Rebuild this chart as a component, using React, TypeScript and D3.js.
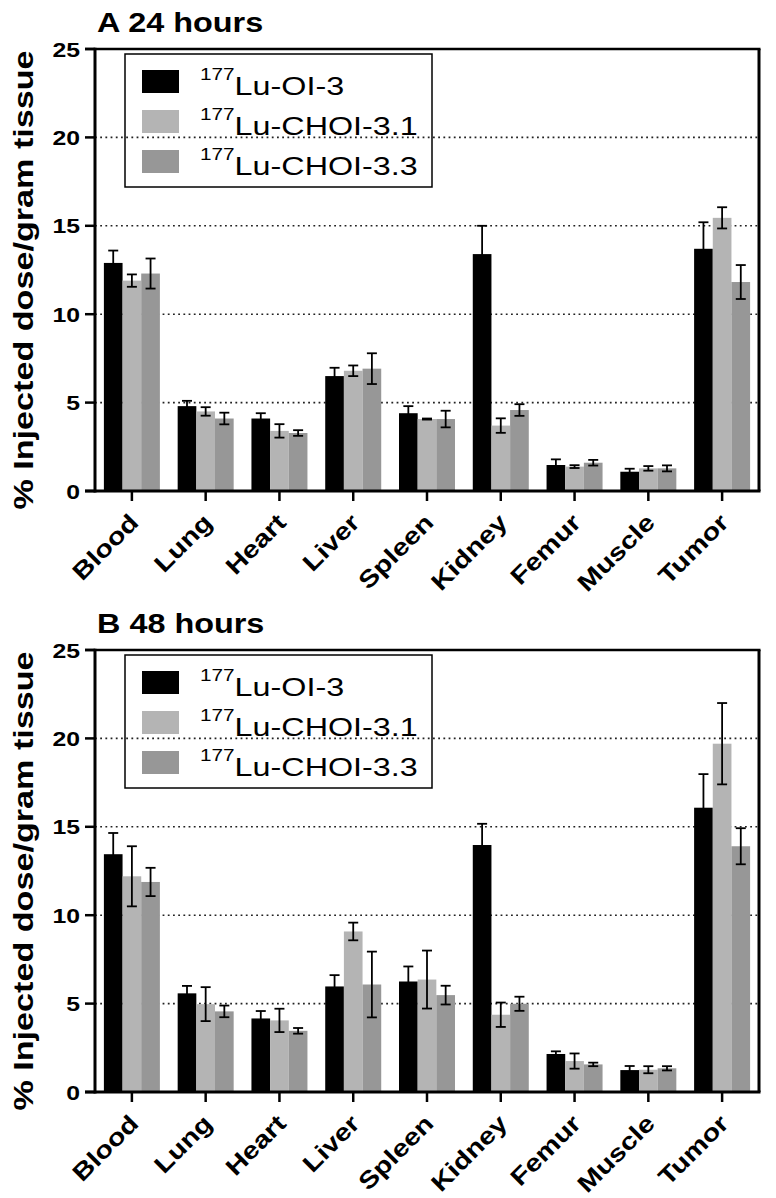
import React from "react";
import * as d3 from "d3";

const categories = ["Blood", "Lung", "Heart", "Liver", "Spleen", "Kidney", "Femur", "Muscle", "Tumor"];
const seriesLabels = ["Lu-OI-3", "Lu-CHOI-3.1", "Lu-CHOI-3.3"];
const isotope = "177";
const yTicks = [0, 5, 10, 15, 20, 25];
const gridValues = [5, 10, 15, 20];

// Panel A: 24 hours
const a24_OI3 = [12.9, 4.8, 4.1, 6.5, 4.4, 13.4, 1.47, 1.09, 13.7];
const a24_OI3_sd = [0.7, 0.3, 0.3, 0.47, 0.4, 1.6, 0.32, 0.17, 1.5];
const a24_CHOI31 = [11.9, 4.5, 3.4, 6.8, 4.07, 3.7, 1.38, 1.28, 15.45];
const a24_CHOI31_sd = [0.35, 0.24, 0.38, 0.3, 0.03, 0.41, 0.08, 0.13, 0.6];
const a24_CHOI33 = [12.3, 4.1, 3.28, 6.92, 4.07, 4.58, 1.6, 1.28, 11.82];
const a24_CHOI33_sd = [0.85, 0.33, 0.16, 0.87, 0.47, 0.33, 0.16, 0.17, 0.96];

// Panel B: 48 hours
const b48_OI3 = [13.45, 5.58, 4.16, 5.97, 6.25, 13.97, 2.15, 1.24, 16.08];
const b48_OI3_sd = [1.2, 0.42, 0.42, 0.64, 0.85, 1.2, 0.15, 0.23, 1.9];
const b48_CHOI31 = [12.2, 4.97, 4.05, 9.08, 6.36, 4.37, 1.75, 1.26, 19.7];
const b48_CHOI31_sd = [1.7, 0.96, 0.66, 0.5, 1.64, 0.69, 0.43, 0.2, 2.3];
const b48_CHOI33 = [11.88, 4.56, 3.46, 6.08, 5.48, 4.99, 1.56, 1.34, 13.9];
const b48_CHOI33_sd = [0.8, 0.33, 0.16, 1.86, 0.53, 0.4, 0.1, 0.12, 1.02];

const colors = ["#000000", "#b4b4b4", "#979797"];
const FONT = "'Liberation Sans', Arial, Helvetica, sans-serif";

type Series = { values: number[]; sd: number[] };

const W = 776;
const H = 1198;
const left = 95;
const right = 759;
const top = 49;
const bottom = 491;

function Panel({ dy, title, series }: { dy: number; title: string; series: Series[] }) {
  const x = d3.scaleBand<string>().domain(categories).range([left, right]).padding(0);
  const sub = d3.scaleBand<number>().domain([0, 1, 2]).range([-28, 28]).padding(0);
  const y = d3.scaleLinear().domain([0, 25]).range([bottom + dy, top + dy]);
  const cx = (c: string) => (x(c) as number) + x.bandwidth() / 2;
  const capW = 5;

  return (
    <g>
      {/* title */}
      <text
        transform={`translate(97,${32 + dy}) scale(1.2,1)`}
        fontFamily={FONT}
        fontWeight="bold"
        fontSize={27}
      >
        {title}
      </text>

      {/* gridlines */}
      {gridValues.map((v) => (
        <line
          key={v}
          x1={left}
          x2={right}
          y1={y(v)}
          y2={y(v)}
          stroke="#222"
          strokeWidth={1.6}
          strokeDasharray="1.8,3.4"
        />
      ))}

      {/* bars */}
      {series.map((s, si) =>
        categories.map((c, ci) => (
          <rect
            key={`${si}-${ci}`}
            x={cx(c) + (sub(si) as number)}
            width={sub.bandwidth()}
            y={y(s.values[ci])}
            height={y(0) - y(s.values[ci])}
            fill={colors[si]}
          />
        ))
      )}

      {/* error bars */}
      {series.map((s, si) =>
        categories.map((c, ci) => {
          const mx = cx(c) + (sub(si) as number) + sub.bandwidth() / 2;
          const hi = y(s.values[ci] + s.sd[ci]);
          const lo = y(s.values[ci] - s.sd[ci]);
          return (
            <g key={`e${si}-${ci}`} stroke="#000" strokeWidth={1.8}>
              <line x1={mx} x2={mx} y1={hi} y2={lo} />
              <line x1={mx - capW} x2={mx + capW} y1={hi} y2={hi} />
              <line x1={mx - capW} x2={mx + capW} y1={lo} y2={lo} />
            </g>
          );
        })
      )}

      {/* frame */}
      <line x1={left - 10} x2={right + 1.5} y1={top + dy} y2={top + dy} stroke="#000" strokeWidth={2.5} />
      <line x1={right} x2={right} y1={top + dy} y2={bottom + dy} stroke="#000" strokeWidth={3} />
      <line x1={left} x2={left} y1={top + dy - 1.2} y2={bottom + dy + 1.5} stroke="#000" strokeWidth={3} />
      <line x1={left - 10} x2={right + 1.5} y1={bottom + dy} y2={bottom + dy} stroke="#000" strokeWidth={3} />

      {/* y ticks */}
      {yTicks.map((t) => (
        <g key={t}>
          <line x1={left - 10} x2={left} y1={y(t)} y2={y(t)} stroke="#000" strokeWidth={2.5} />
          <text
            transform={`translate(80,${y(t) + 7.5}) scale(1.18,1)`}
            textAnchor="end"
            fontFamily={FONT}
            fontWeight="bold"
            fontSize={21}
          >
            {t}
          </text>
        </g>
      ))}

      {/* x ticks and labels */}
      {categories.map((c) => (
        <g key={c}>
          <line x1={cx(c)} x2={cx(c)} y1={bottom + dy} y2={bottom + dy + 10} stroke="#000" strokeWidth={2.5} />
          <text
            transform={`translate(${cx(c) + 8},${524 + dy}) rotate(-45) scale(1.2,1)`}
            textAnchor="end"
            fontFamily={FONT}
            fontWeight="bold"
            fontSize={24}
          >
            {c}
          </text>
        </g>
      ))}

      {/* y label */}
      <text
        transform={`translate(33,${280 + dy}) rotate(-90) scale(1.22,1)`}
        textAnchor="middle"
        fontFamily={FONT}
        fontWeight="bold"
        fontSize={28}
      >
        % Injected dose/gram tissue
      </text>

      {/* legend */}
      <rect x={125} y={54 + dy} width={307} height={133} fill="none" stroke="#000" strokeWidth={1.5} />
      {seriesLabels.map((lab, i) => (
        <g key={lab}>
          <rect x={142} y={70 + i * 40 + dy} width={37} height={23} fill={colors[i]} />
          <text
            transform={`translate(200,${95 + i * 40 + dy}) scale(1.22,1)`}
            fontFamily={FONT}
          >
            <tspan fontSize={17} dy={-15}>
              {isotope}
            </tspan>
            <tspan fontSize={26.5} dy={15}>
              {lab}
            </tspan>
          </text>
        </g>
      ))}
    </g>
  );
}

export default function App() {
  const panelA: Series[] = [
    { values: a24_OI3, sd: a24_OI3_sd },
    { values: a24_CHOI31, sd: a24_CHOI31_sd },
    { values: a24_CHOI33, sd: a24_CHOI33_sd },
  ];
  const panelB: Series[] = [
    { values: b48_OI3, sd: b48_OI3_sd },
    { values: b48_CHOI31, sd: b48_CHOI31_sd },
    { values: b48_CHOI33, sd: b48_CHOI33_sd },
  ];
  return (
    <svg
      width={W}
      height={H}
      viewBox={`0 0 ${W} ${H}`}
      style={{ position: "absolute", left: 0, top: 0, background: "#fff" }}
    >
      <rect width={W} height={H} fill="#fff" />
      <Panel dy={0} title="A 24 hours" series={panelA} />
      <Panel dy={601} title="B 48 hours" series={panelB} />
    </svg>
  );
}
